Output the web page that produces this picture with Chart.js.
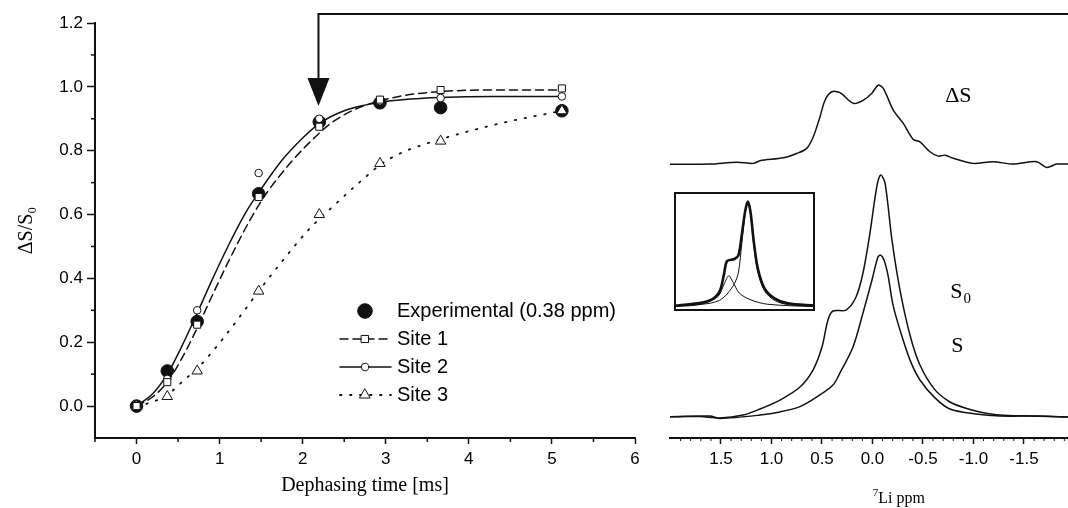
<!DOCTYPE html>
<html>
<head>
<meta charset="utf-8">
<script src="https://cdn.jsdelivr.net/npm/chart.js@4.4.1/dist/chart.umd.min.js"></script>
<style>
  html, body { margin: 0; padding: 0; background: #fff; overflow: hidden; }
  #wrap { position: relative; width: 1068px; height: 508px; }
  canvas { position: absolute; top: 0; }
  #decay { left: 0; }
  #spectra { left: 640px; }
  #inset { left: 674px; top: 192px; }
</style>
</head>
<body>
<div id="wrap">
  <canvas id="decay" width="1068" height="508"></canvas>
  <canvas id="spectra" width="428" height="508"></canvas>
  <canvas id="inset" width="141" height="119"></canvas>
</div>
<script>
// dephasing times [ms]
const times = [0, 0.37, 0.73, 1.47, 2.2, 2.93, 3.66, 5.12];

const expValues = [0, 0.11, 0.265, 0.665, 0.89, 0.95, 0.935, 0.925];
const site1Values = [0, 0.075, 0.255, 0.655, 0.875, 0.96, 0.99, 0.995];
const site2Values = [0, 0.085, 0.30, 0.73, 0.90, 0.955, 0.965, 0.97];
const site3Values = [0, 0.03, 0.11, 0.36, 0.60, 0.76, 0.83, 0.925];

// simulated curves
const fit1Times = [0, 0.2, 0.37, 0.557, 0.74, 0.9, 1.12, 1.36, 1.56, 1.88, 2.2, 2.36, 2.68, 3.16, 3.65, 4.3, 5.12];
const fit1Values = [0, 0.03, 0.075, 0.155, 0.25, 0.34, 0.46, 0.58, 0.665, 0.77, 0.855, 0.89, 0.935, 0.97, 0.985, 0.99, 0.99];
const fit2Times = [0, 0.2, 0.37, 0.55, 0.72, 0.9, 1.1, 1.3, 1.5, 1.75, 2.0, 2.2, 2.5, 2.9, 3.3, 3.65, 4.3, 5.12];
const fit2Values = [0, 0.04, 0.10, 0.19, 0.285, 0.39, 0.50, 0.60, 0.68, 0.77, 0.84, 0.885, 0.925, 0.95, 0.962, 0.967, 0.97, 0.97];
const fit3Times = [0, 0.156, 0.37, 0.557, 0.74, 1.0, 1.32, 1.47, 1.72, 2.08, 2.28, 2.68, 2.93, 3.16, 3.65, 4.37, 5.12];
const fit3Values = [0, 0.01, 0.035, 0.078, 0.12, 0.198, 0.307, 0.36, 0.443, 0.555, 0.605, 0.70, 0.755, 0.79, 0.835, 0.885, 0.925];

const timeTicks = [0, 1, 2, 3, 4, 5, 6];
const ratioTicks = [0, 0.2, 0.4, 0.6, 0.8, 1.0, 1.2];

// 7Li spectra (ppm, normalised intensity)
const s0Ppm = [2.005, 1.708, 1.510, 1.282, 1.114, 0.916, 0.718, 0.589, 0.500, 0.441, 0.391, 0.262, 0.163, 0.094, 0.025, -0.042, -0.081, -0.124, -0.193, -0.272, -0.371, -0.470, -0.619, -0.767, -0.916, -1.064, -1.262, -1.559, -1.936];
const s0Int = [0.001, 0.002, -0.004, 0.008, 0.033, 0.070, 0.124, 0.194, 0.289, 0.401, 0.438, 0.442, 0.496, 0.595, 0.760, 0.950, 1.0, 0.967, 0.731, 0.525, 0.339, 0.215, 0.112, 0.062, 0.037, 0.021, 0.008, 0.004, 0.0];
const sPpm = [2.005, 1.609, 1.510, 1.114, 0.916, 0.718, 0.550, 0.391, 0.322, 0.193, 0.094, 0.005, -0.054, -0.081, -0.114, -0.153, -0.203, -0.272, -0.371, -0.470, -0.619, -0.767, -1.025, -1.262, -1.658, -1.936];
const sInt = [0.001, 0.004, -0.006, 0.008, 0.021, 0.043, 0.083, 0.132, 0.182, 0.289, 0.430, 0.566, 0.661, 0.669, 0.649, 0.587, 0.463, 0.36, 0.236, 0.153, 0.079, 0.033, 0.012, 0.004, 0.004, 0.0];
const dsPpm = [2.005, 1.609, 1.345, 1.180, 1.114, 0.883, 0.750, 0.651, 0.586, 0.520, 0.470, 0.404, 0.322, 0.190, 0.091, 0.008, -0.057, -0.107, -0.206, -0.305, -0.404, -0.470, -0.569, -0.651, -0.718, -0.800, -0.998, -1.196, -1.394, -1.626, -1.725, -1.824, -1.936];
const dsInt = [-0.001, 0.0, 0.008, 0.003, 0.014, 0.026, 0.044, 0.065, 0.113, 0.195, 0.264, 0.299, 0.295, 0.251, 0.264, 0.292, 0.326, 0.313, 0.223, 0.168, 0.102, 0.092, 0.051, 0.033, 0.037, 0.024, 0.003, 0.010, 0.0, 0.010, -0.014, 0.0, 0.0];
const dsOffset = 1.045;

const ppmTicks = [1.5, 1.0, 0.5, 0.0, -0.5, -1.0, -1.5];

// inset: deconvolution of S0
const insetPpm = [1.69, 1.126, 0.806, 0.603, 0.499, 0.42, 0.241, 0.145, 0.066, -0.014, -0.079, -0.144, -0.224, -0.32, -0.482, -0.723, -1.044, -1.688];
const insetTotal = [0.01, 0.032, 0.064, 0.143, 0.30, 0.435, 0.454, 0.49, 0.683, 0.905, 1.0, 0.905, 0.619, 0.366, 0.175, 0.08, 0.032, 0.01];
const insetWide = [0.01, 0.02, 0.035, 0.06, 0.09, 0.12, 0.22, 0.33, 0.6, 0.88, 1.0, 0.88, 0.58, 0.33, 0.15, 0.06, 0.02, 0.005];
const siteAPpm = [1.69, 1.047, 0.644, 0.483, 0.379, 0.283, 0.121, -0.158, -0.561, -1.688];
const siteAInt = [0.0, 0.023, 0.095, 0.223, 0.295, 0.238, 0.128, 0.064, 0.023, 0.0];

const INK = '#111';
const SANS = '"Liberation Sans", Arial, sans-serif';
const SERIF = '"Liberation Serif", "Times New Roman", serif';

Chart.defaults.color = '#000';
Chart.defaults.font.family = SANS;

function pts(xs, ys, shift) {
    return xs.map((x, i) => ({x: x, y: ys[i] + (shift || 0)}));
}

function seg(ctx, x1, y1, x2, y2) {
    ctx.beginPath();
    ctx.moveTo(x1, y1);
    ctx.lineTo(x2, y2);
    ctx.stroke();
}

function curve(xs, ys, dash, width) {
    return {
        data: pts(xs, ys),
        showLine: true,
        borderColor: INK,
        borderWidth: width,
        borderDash: dash,
        borderCapStyle: 'round',
        pointRadius: 0,
        cubicInterpolationMode: 'monotone',
        order: 2
    };
}

function marks(ys, style, radius, fill, order) {
    return {
        data: pts(times, ys),
        showLine: false,
        pointStyle: style,
        pointRadius: radius,
        pointBackgroundColor: fill,
        pointBorderColor: INK,
        pointBorderWidth: 1,
        order: order
    };
}

const expSet = marks(expValues, 'circle', 6.3, INK, 3);
const site1Set = marks(site1Values, 'rect', 5, '#fff', 1);
const site2Set = marks(site2Values, 'circle', 3.8, '#fff', 1);
const site3Set = marks(site3Values, 'triangle', 6, '#fff', 1);
const fit1Set = curve(fit1Times, fit1Values, [8, 5], 1.5);
const fit2Set = curve(fit2Times, fit2Values, [], 1.5);
const fit3Set = curve(fit3Times, fit3Values, [1.5, 8.5], 1.8);

const legendRows = [
    {text: 'Experimental (0.38 ppm)', line: null, mark: expSet},
    {text: 'Site 1', line: fit1Set, mark: site1Set},
    {text: 'Site 2', line: fit2Set, mark: site2Set},
    {text: 'Site 3', line: fit3Set, mark: site3Set}
];

const arrowTime = 2.19;
const arrowTip = 0.94;

const decayDeco = {
    id: 'decayDeco',
    afterDraw(chart) {
        const {ctx, scales: {x, y}} = chart;
        ctx.save();
        ctx.strokeStyle = INK;
        ctx.fillStyle = INK;
        ctx.lineWidth = 1.5;

        // minor ticks
        for (let v = -0.5; v < 6; v += 1) {
            const px = x.getPixelForValue(v);
            seg(ctx, px, x.top, px, x.top + 4);
        }
        for (let v = 0.1; v < 1.2; v += 0.2) {
            const py = y.getPixelForValue(v);
            seg(ctx, y.right - 4, py, y.right, py);
        }

        // arrow to the spectra
        const ax = x.getPixelForValue(arrowTime);
        const tip = y.getPixelForValue(arrowTip);
        ctx.lineWidth = 2;
        ctx.beginPath();
        ctx.moveTo(chart.width, 14);
        ctx.lineTo(ax, 14);
        ctx.lineTo(ax, tip - 20);
        ctx.stroke();
        ctx.beginPath();
        ctx.moveTo(ax - 11, tip - 28);
        ctx.lineTo(ax + 11, tip - 28);
        ctx.lineTo(ax, tip);
        ctx.closePath();
        ctx.fill();

        // legend
        ctx.font = '20px ' + SANS;
        ctx.textBaseline = 'middle';
        legendRows.forEach((row, i) => {
            const cy = 311 + i * 28;
            if (row.line) {
                ctx.setLineDash(row.line.borderDash);
                ctx.lineCap = 'round';
                ctx.lineWidth = row.line.borderWidth;
                seg(ctx, 340, cy, 391, cy);
                ctx.setLineDash([]);
            }
            ctx.lineWidth = 1;
            ctx.fillStyle = row.mark.pointBackgroundColor;
            Chart.helpers.drawPoint(ctx, {
                pointStyle: row.mark.pointStyle,
                radius: row.mark.pointRadius + (row.line ? 0 : 1),
                rotation: 0,
                borderWidth: 1
            }, 365, cy);
            ctx.fillStyle = '#000';
            ctx.fillText(row.text, 397, cy);
        });
        ctx.restore();
    }
};

new Chart(document.getElementById('decay'), {
    type: 'scatter',
    data: {datasets: [expSet, fit1Set, fit2Set, fit3Set, site1Set, site2Set, site3Set]},
    options: {
        responsive: false,
        animation: false,
        devicePixelRatio: 1,
        events: [],
        layout: {padding: {top: 23, right: 433, left: 0, bottom: 0}},
        plugins: {legend: {display: false}, tooltip: {enabled: false}},
        scales: {
            x: {
                type: 'linear',
                min: -0.5,
                max: 6,
                afterBuildTicks: s => { s.ticks = timeTicks.map(v => ({value: v})); },
                afterFit: s => { s.height = 70; },
                ticks: {padding: 5, font: {size: 17}, callback: v => String(v)},
                grid: {drawOnChartArea: false, tickLength: 6, tickWidth: 1.5, tickColor: INK},
                border: {color: INK, width: 2},
                title: {display: true, text: 'Dephasing time [ms]', font: {family: SERIF, size: 20}, padding: {top: 0, bottom: 10}}
            },
            y: {
                type: 'linear',
                min: -0.1,
                max: 1.2,
                afterBuildTicks: s => { s.ticks = ratioTicks.map(v => ({value: v})); },
                afterFit: s => { s.width = 95; },
                ticks: {padding: 4, font: {size: 17}, callback: v => v.toFixed(1)},
                grid: {drawOnChartArea: false, tickLength: 8, tickWidth: 1.5, tickColor: INK},
                border: {color: INK, width: 2},
                title: {display: true, text: 'ΔS/S₀', font: {family: SERIF, size: 20}, padding: {top: 15, bottom: 0}}
            }
        }
    },
    plugins: [decayDeco]
});

function trace(xs, ys, shift, width) {
    return {
        data: pts(xs, ys, shift),
        showLine: true,
        borderColor: INK,
        borderWidth: width,
        pointRadius: 0,
        tension: 0.3
    };
}

const spectraDeco = {
    id: 'spectraDeco',
    afterDraw(chart) {
        const {ctx, scales: {x, y}} = chart;
        ctx.save();
        ctx.strokeStyle = INK;
        ctx.lineWidth = 1;
        for (let k = -19; k <= 20; k++) {
            if (k % 5 === 0) continue;
            const px = x.getPixelForValue(k / 10);
            if (px < x.left || px > x.right) continue;
            seg(ctx, px, x.top, px, x.top + 3);
        }

        ctx.fillStyle = '#000';
        ctx.textBaseline = 'alphabetic';
        ctx.font = '22px ' + SERIF;
        ctx.fillText('ΔS', x.getPixelForValue(-0.72), y.getPixelForValue(1.30));
        const s0x = x.getPixelForValue(-0.77);
        const s0y = y.getPixelForValue(0.49);
        ctx.fillText('S', s0x, s0y);
        const sw = ctx.measureText('S').width;
        ctx.font = '15px ' + SERIF;
        ctx.fillText('0', s0x + sw + 1, s0y + 5);
        ctx.font = '22px ' + SERIF;
        ctx.fillText('S', x.getPixelForValue(-0.78), y.getPixelForValue(0.27));

        // axis title with superscript mass number
        ctx.font = '11px ' + SERIF;
        const w7 = ctx.measureText('7').width;
        ctx.font = '16px ' + SERIF;
        const wLi = ctx.measureText('Li ppm').width;
        const left = x.getPixelForValue(-0.26) - (w7 + wLi) / 2;
        ctx.fillText('Li ppm', left + w7, 503);
        ctx.font = '11px ' + SERIF;
        ctx.fillText('7', left, 496);
        ctx.restore();
    }
};

new Chart(document.getElementById('spectra'), {
    type: 'scatter',
    data: {
        datasets: [
            trace(dsPpm, dsInt, dsOffset, 1.5),
            trace(s0Ppm, s0Int, 0, 1.5),
            trace(sPpm, sInt, 0, 1.5)
        ]
    },
    options: {
        responsive: false,
        animation: false,
        devicePixelRatio: 1,
        events: [],
        layout: {padding: {top: 0, right: 0, left: 30, bottom: 0}},
        plugins: {legend: {display: false}, tooltip: {enabled: false}},
        scales: {
            x: {
                type: 'linear',
                reverse: true,
                min: -1.936,
                max: 2.005,
                afterBuildTicks: s => { s.ticks = ppmTicks.map(v => ({value: v})); },
                afterFit: s => { s.height = 70; },
                ticks: {padding: 5, font: {size: 17}, callback: v => v.toFixed(1)},
                grid: {drawOnChartArea: false, tickLength: 6, tickWidth: 1.5, tickColor: INK},
                border: {color: INK, width: 2}
            },
            y: {
                type: 'linear',
                display: false,
                min: -0.0868,
                max: 1.7231
            }
        }
    },
    plugins: [spectraDeco]
});

const insetFrame = {
    id: 'insetFrame',
    beforeDraw(chart) {
        const {ctx, width, height} = chart;
        ctx.save();
        ctx.fillStyle = '#fff';
        ctx.fillRect(0, 0, width, height);
        ctx.restore();
    },
    afterDraw(chart) {
        const {ctx, width, height} = chart;
        ctx.save();
        ctx.strokeStyle = INK;
        ctx.lineWidth = 2;
        ctx.strokeRect(1, 1, width - 2, height - 2);
        ctx.restore();
    }
};

new Chart(document.getElementById('inset'), {
    type: 'scatter',
    data: {
        datasets: [
            trace(insetPpm, insetTotal, 0, 2.6),
            trace(insetPpm, insetWide, 0, 1),
            trace(siteAPpm, siteAInt, 0, 1)
        ]
    },
    options: {
        responsive: false,
        animation: false,
        devicePixelRatio: 1,
        events: [],
        layout: {padding: 0},
        plugins: {legend: {display: false}, tooltip: {enabled: false}},
        scales: {
            x: {type: 'linear', display: false, reverse: true, min: -1.7, max: 1.7},
            y: {type: 'linear', display: false, min: -0.041, max: 1.092}
        }
    },
    plugins: [insetFrame]
});
</script>
</body>
</html>
